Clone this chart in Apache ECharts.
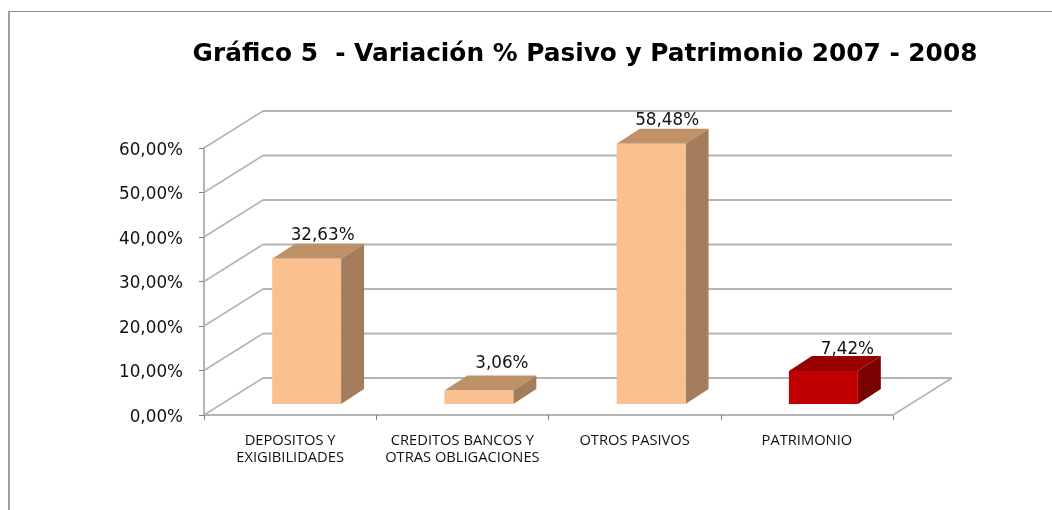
<!DOCTYPE html>
<html>
<head>
<meta charset="utf-8">
<title>Gráfico 5</title>
<script src="https://cdn.jsdelivr.net/npm/echarts@6/dist/echarts.min.js"></script>
<style>
  html, body { margin: 0; padding: 0; background: #fff; }
  #chart { width: 1052px; height: 510px; }
</style>
</head>
<body>
<div id="chart"></div>
<script>
var categories = ['DEPOSITOS Y\nEXIGIBILIDADES', 'CREDITOS BANCOS Y\nOTRAS OBLIGACIONES', 'OTROS PASIVOS', 'PATRIMONIO']
var values = [32.63, 3.06, 58.48, 7.42]
var valueLabels = ['32,63%', '3,06%', '58,48%', '7,42%']
var yTicks = [0, 10, 20, 30, 40, 50, 60]

// depth of the fake 3D box, in pixels
var wallDx = 59, wallDy = -37
var barShiftX = 16.5, barShiftY = -11
var barDx = 23, barDy = -15
var gridColor = '#b4b4b4'
// the two short bars have their labels pushed a bit further
var labelNudgeX = [16, 23, 16, 24]
var labelNudgeY = [-23, -27, -23, -21]

var myChart = echarts.init(document.getElementById('chart'))

function renderWall(params, api) {
  var y = api.coord([0, api.value(0)])[1]
  var left = params.coordSys.x
  var right = left + params.coordSys.width
  var children = [
    {
      type: 'line',
      shape: { x1: left, y1: y, x2: left + wallDx, y2: y + wallDy },
      style: { stroke: gridColor, lineWidth: 1.5 }
    },
    {
      type: 'line',
      shape: { x1: left + wallDx, y1: y + wallDy, x2: right + wallDx, y2: y + wallDy },
      style: { stroke: gridColor, lineWidth: 2 }
    }
  ]
  // floor closes on the right side
  if (api.value(0) === 0) {
    children.push({
      type: 'line',
      shape: { x1: right, y1: y, x2: right + wallDx, y2: y + wallDy },
      style: { stroke: gridColor, lineWidth: 1.5 }
    })
  }
  return { type: 'group', children: children }
}

function renderBar(params, api) {
  var i = params.dataIndex
  var top = api.coord([api.value(0), api.value(1)])
  var base = api.coord([api.value(0), 0])
  var w = api.size([1, 0])[0] * 0.4
  var x1 = top[0] - w / 2 + barShiftX
  var x2 = x1 + w
  var yTop = top[1] + barShiftY
  var yBase = base[1] + barShiftY
  var isRed = i === 3
  return {
    type: 'group',
    children: [
      {
        type: 'polygon',
        shape: { points: [[x1, yTop], [x1 + barDx, yTop + barDy], [x2 + barDx, yTop + barDy], [x2, yTop]] },
        style: { fill: isRed ? '#990000' : '#bf9169' }
      },
      {
        type: 'polygon',
        shape: { points: [[x2, yTop], [x2 + barDx, yTop + barDy], [x2 + barDx, yBase + barDy], [x2, yBase]] },
        style: { fill: isRed ? '#7b0000' : '#a47d5c' }
      },
      {
        type: 'rect',
        shape: { x: x1, y: yTop, width: w, height: yBase - yTop },
        style: { fill: isRed ? '#c00000' : '#fbc08f' }
      },
      {
        type: 'text',
        x: x1 + w / 2 + labelNudgeX[i],
        y: yTop + labelNudgeY[i],
        style: {
          text: valueLabels[i],
          fill: '#111',
          font: '16.8px "DejaVu Sans"',
          align: 'center',
          verticalAlign: 'middle'
        }
      }
    ]
  }
}

var option = {
  animation: false,
  backgroundColor: '#fff',
  title: {
    text: 'Gráfico 5  - Variación % Pasivo y Patrimonio 2007 - 2008',
    left: 580,
    top: 37,
    textAlign: 'center',
    textStyle: { color: '#000', fontFamily: 'DejaVu Sans', fontWeight: 'bold', fontSize: 24.8 }
  },
  // only top and left of the frame are inside the picture
  graphic: [
    {
      type: 'line',
      shape: { x1: 8, y1: 11.5, x2: 1052, y2: 11.5 },
      style: { stroke: '#8c8c8c', lineWidth: 1 },
      silent: true
    },
    {
      type: 'line',
      shape: { x1: 9, y1: 11, x2: 9, y2: 510 },
      style: { stroke: '#a0a0a0', lineWidth: 2 },
      silent: true
    }
  ],
  grid: { left: 204, right: 159, top: 148, bottom: 95 },
  xAxis: {
    type: 'category',
    data: categories,
    axisLine: { show: true, lineStyle: { color: gridColor, width: 2 } },
    axisTick: { show: true, alignWithLabel: false, length: 5, lineStyle: { color: '#808080' } },
    axisLabel: { interval: 0, color: '#111', fontFamily: 'Open Sans', fontSize: 14.7, lineHeight: 17, margin: 17 },
    splitLine: { show: false }
  },
  yAxis: {
    type: 'value',
    min: 0,
    max: 60,
    interval: 10,
    axisLine: { show: true, lineStyle: { color: gridColor, width: 2 } },
    axisTick: { show: true, length: 5, lineStyle: { color: '#808080' } },
    axisLabel: {
      color: '#111',
      margin: 21,
      formatter: function (v) { return '{a|' + v.toFixed(2).replace('.', ',') + '%}' },
      // pushes the text a little below the tick
      rich: {
        a: { fontFamily: 'DejaVu Sans', fontSize: 16.8, color: '#111', padding: [5, 0, 0, 0] }
      }
    },
    splitLine: { show: false }
  },
  series: [
    {
      type: 'custom',
      renderItem: renderWall,
      data: yTicks,
      silent: true,
      z: 1,
      clip: false,
      encode: { y: 0 }
    },
    {
      type: 'custom',
      renderItem: renderBar,
      data: values.map(function (v, i) { return [i, v] }),
      z: 3,
      clip: false,
      encode: { x: 0, y: 1 }
    }
  ]
}

myChart.setOption(option)
</script>
</body>
</html>
